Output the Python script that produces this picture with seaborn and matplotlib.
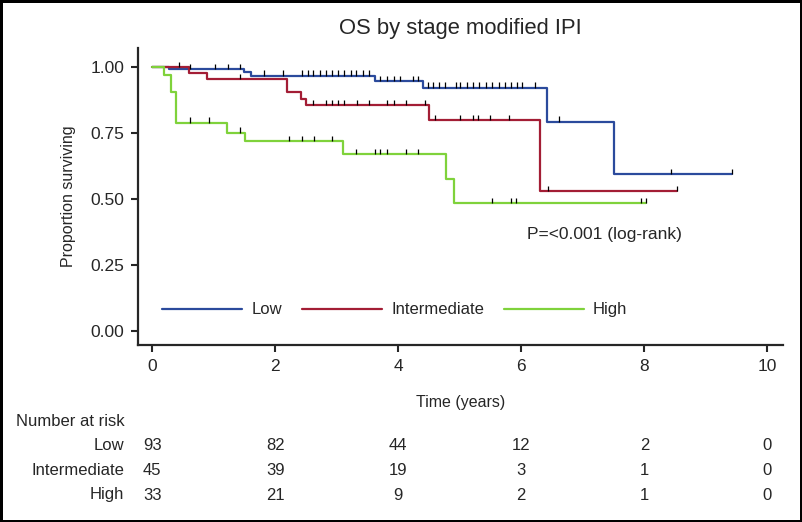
import numpy as np
import pandas as pd
import matplotlib
matplotlib.use("Agg")
import matplotlib.pyplot as plt
import matplotlib.transforms as mtransforms
from matplotlib.lines import Line2D
import seaborn as sns

# step points of each KM curve (time in years, survival)
low_t = [0, 0.28, 1.5, 1.6, 3.62, 4.4, 6.42, 7.5, 9.43]
low_s = [1.0, 0.992, 0.982, 0.967, 0.947, 0.922, 0.793, 0.594, 0.594]
int_t = [0, 0.6, 0.9, 2.2, 2.42, 2.5, 4.5, 6.3, 8.53]
int_s = [1.0, 0.978, 0.955, 0.904, 0.88, 0.856, 0.80, 0.531, 0.531]
high_t = [0, 0.2, 0.3, 0.39, 1.21, 1.51, 3.1, 4.78, 4.9, 8.03]
high_s = [1.0, 0.97, 0.906, 0.789, 0.752, 0.72, 0.67, 0.576, 0.484, 0.484]

# censoring times
low_cens = [0.61, 1.02, 1.23, 1.43, 1.82, 2.13, 2.44, 2.53, 2.62, 2.73, 2.82, 2.93,
            3.02, 3.12, 3.23, 3.32, 3.42, 3.52, 3.71, 3.82, 3.93, 4.03, 4.24, 4.32,
            4.49, 4.57, 4.66, 4.76, 4.94, 5.01, 5.12, 5.22, 5.31, 5.42, 5.53, 5.64,
            5.73, 5.83, 5.93, 6.02, 6.23, 6.62, 8.44, 9.43]
int_cens = [0.43, 1.43, 2.62, 2.82, 2.93, 3.02, 3.12, 3.33, 3.53, 3.82, 3.93, 4.13,
            4.43, 4.59, 5.01, 5.21, 5.30, 5.50, 5.80, 6.43, 8.53]
high_cens = [0.62, 0.93, 1.43, 2.22, 2.43, 2.63, 2.93, 3.32, 3.62, 3.71, 3.81, 4.13,
             4.32, 5.53, 5.83, 5.92, 7.94, 8.02]

groups = ["Low", "Intermediate", "High"]
colors = ["#2b4a9c", "#a31d35", "#7fd23b"]

risk_times = [0, 2, 4, 6, 8, 10]
risk_low = [93, 82, 44, 12, 2, 0]
risk_int = [45, 39, 19, 3, 1, 0]
risk_high = [33, 21, 9, 2, 1, 0]

curves = {"Low": (low_t, low_s, low_cens),
          "Intermediate": (int_t, int_s, int_cens),
          "High": (high_t, high_s, high_cens)}

df = pd.concat([pd.DataFrame({"time": t, "surv": s, "group": g})
                for g, (t, s, c) in curves.items()], ignore_index=True)

sns.set_style("ticks")
plt.rcParams["font.family"] = ["Liberation Sans", "DejaVu Sans"]

fig = plt.figure(figsize=(8.02, 5.22), dpi=100)
fig.patch.set_edgecolor("black")
fig.patch.set_linewidth(3.5)
ax = fig.add_axes([0.172, 0.339, 0.804, 0.569])

sns.lineplot(data=df, x="time", y="surv", hue="group", hue_order=groups,
             palette=colors, drawstyle="steps-post", estimator=None, sort=False,
             linewidth=1.6, legend=False, ax=ax)

# censor ticks
for g in groups:
    t, s, c = curves[g]
    idx = np.searchsorted(t, c, side="right") - 1
    yv = np.array(s)[idx]
    ax.vlines(c, yv, yv + 0.02, color="black", linewidth=0.9, zorder=5)

ax.set_xlim(-0.23, 10.25)
ax.set_ylim(-0.053, 1.072)
ax.set_xticks(risk_times)
ax.set_yticks([0, 0.25, 0.5, 0.75, 1.0])
ax.set_yticklabels(["0.00", "0.25", "0.50", "0.75", "1.00"])
ax.tick_params(labelsize=12.5, width=1.5, length=5, pad=5)
for sp in ["left", "bottom"]:
    ax.spines[sp].set_linewidth(1.6)
sns.despine(ax=ax)

ax.set_xlabel("Time (years)", fontsize=11.5, labelpad=15)
ax.set_ylabel("Proportion surviving", fontsize=11.5)
ax.yaxis.set_label_coords(-0.108, 0.5)
ax.yaxis.label.set_va("center")
ax.set_title("OS by stage modified IPI", fontsize=15.8, pad=10)

ax.text(6.09, 0.367, "P=<0.001 (log-rank)", fontsize=12.5, va="center", ha="left")

handles = [Line2D([], [], color=c, linewidth=1.6) for c in colors]
ax.legend(handles, groups, loc="center left", bbox_to_anchor=(0.038, 0.118),
          ncol=3, frameon=False, fontsize=12, handlelength=4.8,
          handletextpad=0.54, columnspacing=1.2, borderpad=0, borderaxespad=0)

# number at risk table
tr = mtransforms.blended_transform_factory(ax.transData, fig.transFigure)
fig.text(16 / 802, 1 - 422 / 522, "Number at risk", fontsize=12, va="center")
for lab, vals, py in [("Low", risk_low, 446), ("Intermediate", risk_int, 470.5),
                      ("High", risk_high, 495)]:
    fig.text(124 / 802, 1 - py / 522, lab, fontsize=12, va="center", ha="right")
    for t, v in zip(risk_times, vals):
        ax.text(t, 1 - py / 522, str(v), fontsize=12, va="center", ha="center",
                transform=tr, clip_on=False)

fig.savefig("out.png", dpi=100)
